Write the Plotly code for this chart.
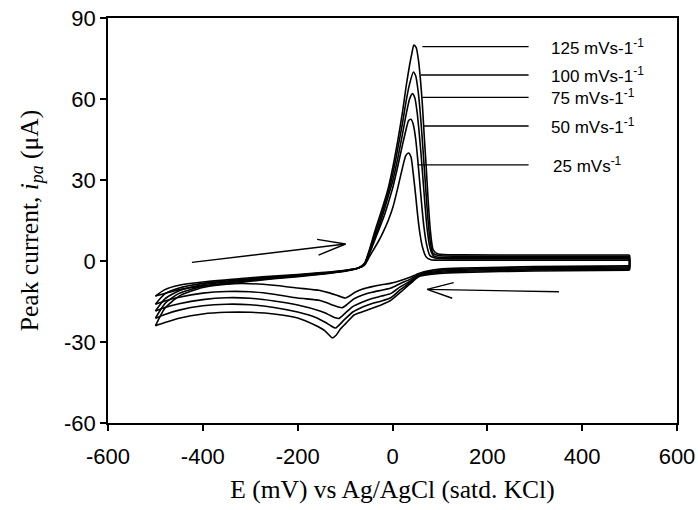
import plotly.graph_objects as go

# ---------------- data ----------------
scan_rates = ["25 mVs<sup>-1</sup>", "50 mVs-1<sup>-1</sup>", "75 mVs-1<sup>-1</sup>",
              "100 mVs-1<sup>-1</sup>", "125 mVs-1<sup>-1</sup>"]

# forward (anodic) scans, -500 -> +500 mV
fwd_left_E = [-500, -480, -450, -400, -350, -300, -250, -200, -150, -100, -72]
fwd_left_I = {
    25:  [-13, -10.6, -9.0, -7.8, -7.0, -6.2, -5.6, -5.0, -4.3, -3.4, -2.6],
    50:  [-16, -12.2, -10.0, -8.3, -7.4, -6.6, -5.9, -5.2, -4.5, -3.5, -2.6],
    75:  [-18.5, -14, -11, -8.8, -7.8, -6.9, -6.1, -5.4, -4.6, -3.6, -2.6],
    100: [-21.2, -15.8, -12, -9.3, -8.2, -7.2, -6.4, -5.6, -4.8, -3.7, -2.6],
    125: [-24, -17.5, -13, -9.8, -8.6, -7.5, -6.6, -5.8, -4.9, -3.8, -2.6],
}
fwd_peak_E = {
    25:  [-59, -49, -39, -29, -19, -9, 1, 11, 21, 28, 34, 39, 44, 49, 53, 58, 63, 71, 81, 96, 146, 300, 500],
    50:  [-59, -49, -39, -29, -19, -9, 1, 11, 21, 29, 34, 39, 44, 49, 53, 57, 61, 66, 72, 79, 96, 146, 300, 500],
    75:  [-59, -49, -39, -29, -19, -9, 1, 11, 21, 29, 36, 42, 47, 52, 56, 60, 64, 68, 73, 79, 86, 96, 146, 300, 500],
    100: [-59, -49, -39, -29, -19, -9, 1, 11, 21, 29, 36, 44, 49, 54, 58, 62, 66, 70, 74, 79, 85, 96, 146, 300, 500],
    125: [-59, -49, -39, -29, -19, -9, 1, 11, 21, 29, 36, 41, 45, 50, 55, 59, 63, 67, 71, 75, 80, 86, 96, 146, 300, 500],
}
fwd_peak_I = {
    25:  [-1.5, 1.5, 4.5, 7.5, 11, 15, 20, 27, 34.5, 39, 40, 38.5, 32, 24, 17, 10, 5.3, 1.5, 0.5, 0.3, 0.3, 0.3, 0.3],
    50:  [-1.3, 2.5, 7, 11.5, 16, 21.5, 27.5, 35, 43, 49, 52, 52.5, 50.5, 45, 38, 30, 22, 13, 6, 2, 0.9, 0.8, 0.8, 0.8],
    75:  [-1.1, 3, 8, 12.5, 18, 24, 30, 38, 47, 54.5, 60, 62, 60.5, 55, 48, 40, 31, 22, 12, 5, 2, 1.4, 1.3, 1.2, 1.2],
    100: [-1.0, 3.5, 9, 14, 19.5, 25.5, 32.5, 41.5, 51, 59.5, 65.5, 70, 68.5, 63, 56, 47, 37, 27, 17, 8, 3, 2.0, 1.8, 1.7, 1.7],
    125: [-0.8, 4, 10, 15.5, 21, 27, 35, 44.5, 55, 65, 72.5, 77, 80, 79, 74, 67, 58, 46, 35, 23, 11, 4, 2.6, 2.3, 2.2, 2.2],
}

# reverse (cathodic) scans, +500 -> -500 mV
rev_E = {
    25:  [500, 300, 150, 100, 57, 37, 17, -3, -23, -43, -63, -78, -91, -99, -108, -118, -133, -153, -200, -250, -300, -350, -400, -450, -480, -500],
    50:  [500, 300, 150, 100, 57, 37, 17, -3, -23, -43, -63, -81, -95, -106, -115, -125, -138, -153, -200, -250, -300, -350, -400, -450, -480, -500],
    75:  [500, 300, 150, 100, 57, 37, 17, -3, -23, -43, -63, -83, -99, -113, -121, -131, -143, -153, -200, -250, -300, -350, -400, -450, -480, -500],
    100: [500, 300, 150, 100, 57, 37, 17, -3, -23, -43, -63, -83, -103, -120, -130, -141, -163, -200, -250, -300, -350, -400, -450, -480, -500],
    125: [500, 300, 150, 100, 57, 37, 17, -3, -23, -43, -63, -81, -95, -109, -119, -127, -135, -143, -163, -200, -250, -300, -350, -400, -450, -480, -500],
}
rev_I = {
    25:  [-1.8, -2.1, -2.6, -3.0, -4.5, -6.0, -7.2, -8.2, -8.8, -9.5, -10.4, -11.5, -13.0, -13.7, -13.3, -12.7, -11.8, -10.9, -10.0, -9.0, -8.4, -8.5, -9.2, -10.6, -12.0, -13.0],
    50:  [-2.2, -2.5, -3.0, -3.4, -4.8, -6.8, -8.3, -10.0, -10.8, -11.6, -12.6, -14.0, -16.0, -17.3, -17.0, -16.4, -15.5, -14.6, -13.7, -12.3, -11.4, -11.3, -11.9, -13.4, -14.8, -16.0],
    75:  [-2.6, -2.9, -3.4, -3.8, -5.1, -7.5, -9.5, -12.0, -13.0, -13.9, -15.2, -16.8, -19.2, -21.3, -21.0, -20.2, -19.2, -18.5, -16.3, -14.8, -13.8, -13.6, -14.3, -15.8, -17.2, -18.5],
    100: [-3.0, -3.3, -3.8, -4.2, -5.4, -8.0, -10.5, -13.5, -14.8, -15.7, -17.0, -18.8, -22.0, -24.8, -24.0, -22.8, -20.8, -18.9, -17.2, -16.2, -16.0, -16.6, -18.2, -19.8, -21.2],
    125: [-3.4, -3.7, -4.2, -4.6, -5.7, -8.5, -11.5, -14.5, -16.2, -17.5, -18.8, -20.0, -22.5, -25.0, -27.5, -28.5, -27.2, -25.8, -23.8, -21.1, -19.6, -19.0, -19.0, -19.6, -21.2, -22.8, -24.0],
}

# label leader lines (start E, end E, current) and label positions
rates = [25, 50, 75, 100, 125]
leader_start_E = [53, 66, 63, 60, 63]
leader_end_E = [287, 287, 287, 287, 287]
leader_I = [35.6, 50.0, 60.6, 68.9, 79.4]
label_E = [335, 329, 329, 329, 329]

# scan direction arrows (shaft start, tip, barb1, barb2)
arrow_fwd_E = [-423, -99, -159, None, -99, -156]
arrow_fwd_I = [-0.5, 6.3, 8.0, None, 6.3, 2.2]
arrow_rev_E = [351, 73, 129, None, 73, 126]
arrow_rev_I = [-11.4, -10.5, -8.0, None, -10.5, -13.8]

x_ticks = [-600, -400, -200, 0, 200, 400, 600]
x_tick_text = ["-600", "-400", "-200", "0", "200", "400", "600"]
y_ticks = [-60, -30, 0, 30, 60, 90]
y_tick_text = ["-60", "-30", "0", "30", "60", "90"]

# ---------------- figure ----------------
fig = go.Figure()
curve_line = dict(color="black", width=1.6, shape="spline", smoothing=0.6)
for r in rates:
    fx = fwd_left_E + fwd_peak_E[r]
    fy = fwd_left_I[r] + fwd_peak_I[r]
    fig.add_trace(go.Scatter(x=fx, y=fy, mode="lines", line=curve_line,
                             hoverinfo="skip", showlegend=False))
    fig.add_trace(go.Scatter(x=rev_E[r], y=rev_I[r], mode="lines", line=curve_line,
                             hoverinfo="skip", showlegend=False))
    # switching-potential joins (forward end -> reverse start, reverse end -> forward start)
    fig.add_trace(go.Scatter(x=[fx[-1], rev_E[r][0], None, rev_E[r][-1], fx[0]],
                             y=[fy[-1], rev_I[r][0], None, rev_I[r][-1], fy[0]],
                             mode="lines", line=dict(color="black", width=1.6),
                             hoverinfo="skip", showlegend=False))

for i, r in enumerate(rates):
    fig.add_trace(go.Scatter(x=[leader_start_E[i], leader_end_E[i]], y=[leader_I[i], leader_I[i]],
                             mode="lines", line=dict(color="black", width=1.4),
                             hoverinfo="skip", showlegend=False))
    fig.add_annotation(x=label_E[i], y=leader_I[i], text=scan_rates[i], showarrow=False,
                       xanchor="left", yanchor="middle",
                       font=dict(family="Liberation Sans, Arial", size=17, color="black"))

for ax, ay in [(arrow_fwd_E, arrow_fwd_I), (arrow_rev_E, arrow_rev_I)]:
    fig.add_trace(go.Scatter(x=ax, y=ay, mode="lines", line=dict(color="black", width=1.4),
                             hoverinfo="skip", showlegend=False))

tick_font = dict(family="Liberation Sans, Arial", size=22, color="black")
title_font = dict(family="Liberation Serif, Times New Roman", size=25.5, color="black")

fig.update_layout(
    width=698, height=510,
    margin=dict(l=108, r=21, t=18, b=87, autoexpand=False),
    paper_bgcolor="white", plot_bgcolor="white",
    xaxis=dict(range=[-600, 600], tickvals=x_ticks, ticktext=x_tick_text, ticks="outside",
               ticklen=6, tickwidth=1.5, tickcolor="black", showline=True, linecolor="black",
               linewidth=1.8, mirror=True, showgrid=False, zeroline=False, tickfont=tick_font,
               ticklabelstandoff=7, automargin=False,
               title=dict(text="E (mV) vs Ag/AgCl (satd. KCl)", font=title_font, standoff=12)),
    yaxis=dict(range=[-60, 90], tickvals=y_ticks, ticktext=y_tick_text, ticks="outside",
               ticklen=6, tickwidth=1.5, tickcolor="black", showline=True, linecolor="black",
               linewidth=1.8, mirror=True, showgrid=False, zeroline=False, tickfont=tick_font,
               automargin=False,
               title=dict(text="Peak current, <i>i</i><sub><i>pa</i></sub> (μA)", font=title_font,
                          standoff=18)),
)

fig.write_html("out.html")
